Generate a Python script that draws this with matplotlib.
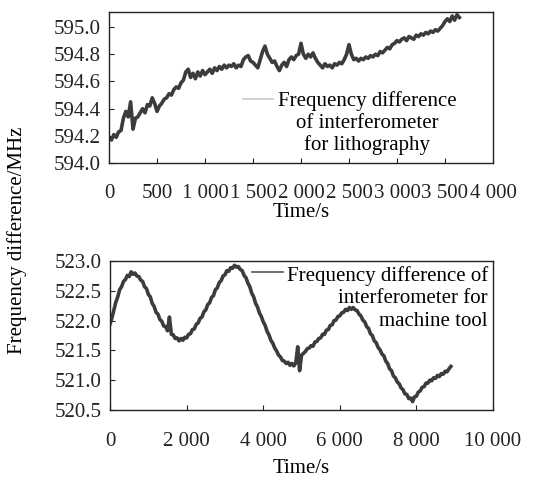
import numpy as np
import matplotlib
matplotlib.use("Agg")
import matplotlib.pyplot as plt
from matplotlib.ticker import FixedLocator, FixedFormatter

plt.rcParams["font.family"] = ["Liberation Serif", "DejaVu Serif"]
plt.rcParams["font.size"] = 15

# lithography interferometer, sampled every 25 s
litho_step = 25
litho_freq = [
    594.19, 594.17, 594.21, 594.19, 594.23, 594.24, 594.33, 594.38, 594.34, 594.45, 594.25,
    594.33, 594.34, 594.37, 594.40, 594.37, 594.43, 594.42, 594.48, 594.44, 594.38,
    594.42, 594.44, 594.47, 594.48, 594.51, 594.50, 594.54, 594.56, 594.55, 594.59,
    594.61, 594.67, 594.69, 594.63, 594.66, 594.62, 594.67, 594.64, 594.68, 594.65,
    594.67, 594.69, 594.66, 594.70, 594.68, 594.71, 594.69, 594.72, 594.70, 594.72,
    594.71, 594.73, 594.70, 594.72, 594.71, 594.76, 594.78, 594.79, 594.75, 594.74,
    594.72, 594.70, 594.76, 594.82, 594.86, 594.80, 594.77, 594.74, 594.75, 594.71,
    594.68, 594.72, 594.74, 594.71, 594.76, 594.78, 594.76, 594.79, 594.80, 594.88,
    594.80, 594.77, 594.80, 594.78, 594.81, 594.77, 594.74, 594.72, 594.70, 594.73,
    594.71, 594.72, 594.70, 594.73, 594.72, 594.74, 594.73, 594.76, 594.80, 594.87,
    594.80, 594.76, 594.77, 594.75, 594.77, 594.76, 594.78, 594.77, 594.79, 594.78,
    594.80, 594.79, 594.82, 594.81, 594.83, 594.85, 594.84, 594.87, 594.88, 594.90,
    594.89, 594.91, 594.92, 594.90, 594.93, 594.92, 594.91, 594.94, 594.93, 594.95,
    594.94, 594.96, 594.95, 594.97, 594.96, 594.98, 594.97, 594.99, 595.01, 595.04,
    595.06, 595.04, 595.08, 595.05, 595.09, 595.07,
]

# machine tool interferometer, sampled every 50 s
tool_step = 50
tool_freq = [
    521.95, 522.05, 522.18, 522.31, 522.40, 522.52, 522.57, 522.66, 522.69, 522.76,
    522.74, 522.82, 522.78, 522.80, 522.75, 522.74, 522.68, 522.66, 522.57, 522.54,
    522.44, 522.40, 522.29, 522.24, 522.14, 522.11, 522.02, 521.99, 521.91, 521.90,
    521.83, 522.06, 521.77, 521.76, 521.70, 521.71, 521.66, 521.70, 521.67, 521.72,
    521.71, 521.77, 521.78, 521.85, 521.86, 521.94, 521.96, 522.04, 522.06, 522.15,
    522.18, 522.27, 522.30, 522.39, 522.42, 522.52, 522.55, 522.64, 522.67, 522.75,
    522.77, 522.84, 522.83, 522.89, 522.88, 522.93, 522.90, 522.91, 522.86, 522.84,
    522.76, 522.72, 522.63, 522.57, 522.46, 522.40, 522.29, 522.23, 522.13, 522.07,
    521.98, 521.92, 521.82, 521.76, 521.67, 521.62, 521.54, 521.49, 521.42, 521.39,
    521.33, 521.32, 521.28, 521.30, 521.25, 521.28, 521.24, 521.29, 521.56, 521.16,
    521.42, 521.45, 521.48, 521.53, 521.54, 521.58, 521.57, 521.64, 521.65, 521.70,
    521.71, 521.77, 521.77, 521.84, 521.85, 521.92, 521.93, 522.00, 522.01, 522.07,
    522.08, 522.13, 522.14, 522.19, 522.17, 522.22, 522.19, 522.22, 522.18, 522.17,
    522.11, 522.08, 522.01, 521.98, 521.90, 521.87, 521.78, 521.75, 521.66, 521.63,
    521.55, 521.51, 521.44, 521.41, 521.32, 521.28, 521.19, 521.16, 521.07, 521.04,
    520.97, 520.94, 520.87, 520.84, 520.77, 520.76, 520.69, 520.70, 520.64, 520.72,
    520.73, 520.80, 520.82, 520.88, 520.89, 520.95, 520.95, 521.00, 520.99, 521.04,
    521.03, 521.08, 521.06, 521.11, 521.10, 521.15, 521.14, 521.19, 521.23,
]

litho_xticks = [0, 500, 1000, 1500, 2000, 2500, 3000, 3500, 4000]
litho_xlabels = ["0", "500", "1 000", "1 500", "2 000", "2 500", "3 000", "3 500", "4 000"]
litho_yticks = [594.0, 594.2, 594.4, 594.6, 594.8, 595.0]
tool_xticks = [0, 2000, 4000, 6000, 8000, 10000]
tool_xlabels = ["0", "2 000", "4 000", "6 000", "8 000", "10 000"]
tool_yticks = [520.5, 521.0, 521.5, 522.0, 522.5, 523.0]

litho_t = np.arange(len(litho_freq)) * litho_step
tool_t = np.arange(len(tool_freq)) * tool_step

line_col = "#3c3c3c"

fig = plt.figure(figsize=(5.37, 4.8), dpi=100)
ax1 = fig.add_axes([0.203, 0.660, 0.715, 0.315])
ax2 = fig.add_axes([0.205, 0.146, 0.713, 0.310])

ax1.plot(litho_t, litho_freq, color=line_col, lw=2.6)
ax1.set_xlim(0, 4000)
ax1.set_ylim(594.0, 595.11)
ax1.xaxis.set_major_locator(FixedLocator(litho_xticks))
ax1.xaxis.set_major_formatter(FixedFormatter(litho_xlabels))
ax1.set_yticks(litho_yticks)
ax1.set_yticklabels([f"{v:.1f}" for v in litho_yticks])
ax1.set_xlabel("Time/s", labelpad=0)
ax1.tick_params(axis="x", pad=15)

ax1.plot([0.349, 0.427], [0.424, 0.424], transform=ax1.transAxes,
         color="#c8c8c8", lw=1.2)
ax1.text(0.672, 0.265, "Frequency difference\nof interferometer\nfor lithography",
         transform=ax1.transAxes, ha="center", va="center",
         multialignment="center", linespacing=1.15)

ax2.plot(tool_t, tool_freq, color=line_col, lw=2.6)
ax2.set_xlim(0, 10000)
ax2.set_ylim(520.5, 523.0)
ax2.xaxis.set_major_locator(FixedLocator(tool_xticks))
ax2.xaxis.set_major_formatter(FixedFormatter(tool_xlabels))
ax2.set_yticks(tool_yticks)
ax2.set_yticklabels([f"{v:.1f}" for v in tool_yticks])
ax2.set_xlabel("Time/s", labelpad=6)
ax2.tick_params(axis="x", pad=16)

ax2.plot([0.371, 0.452], [0.926, 0.926], transform=ax2.transAxes,
         color="#555555", lw=1.2)
ax2.text(0.987, 0.75, "Frequency difference of\ninterferometer for\nmachine tool",
         transform=ax2.transAxes, ha="right", va="center",
         multialignment="right", linespacing=1.25)

for ax in (ax1, ax2):
    ax.tick_params(direction="in", length=3.5, width=0.8, colors="#222222")
    ax.tick_params(axis="y", pad=6)
    for sp in ax.spines.values():
        sp.set_linewidth(1.0)
        sp.set_color("#222222")

fig.text(0.032, 0.5, "Frequency difference/MHz", rotation=90,
         ha="center", va="center")

fig.savefig("out.png", dpi=100)
